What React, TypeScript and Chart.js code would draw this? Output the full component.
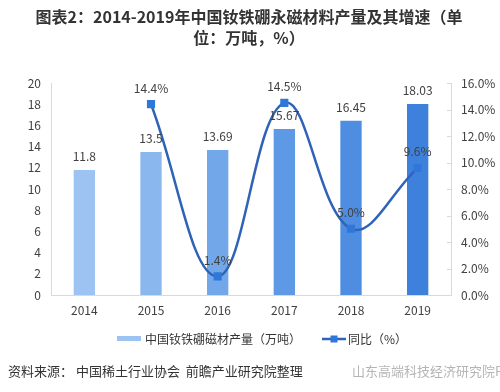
import React, { useEffect, useRef } from "react";
import { Chart, registerables } from "chart.js";

Chart.register(...registerables);

const years = ["2014", "2015", "2016", "2017", "2018", "2019"];
const output = [11.8, 13.5, 13.69, 15.67, 16.45, 18.03];
const growth = [null, 14.4, 1.4, 14.5, 5.0, 9.6];
const leftTicks = [0, 2, 4, 6, 8, 10, 12, 14, 16, 18, 20];
const rightTicks = [0, 2, 4, 6, 8, 10, 12, 14, 16];
const barColors = ["#9cc3f1", "#8ab7ee", "#72a7ea", "#5e99e6", "#4e8de2", "#3e81dd"];
const titleLines = ["图表2：2014-2019年中国钕铁硼永磁材料产量及其增速（单", "位：万吨，%）"];
const barLegend = "中国钕铁硼磁材产量（万吨）";
const lineLegend = "同比（%）";
const sourceText = "资料来源： 中国稀土行业协会  前瞻产业研究院整理";
const watermarkText = "山东高端科技经济研究院PP";

const FONT = "'Noto Sans CJK SC', 'Noto Sans', sans-serif";

const overlay = {
  id: "overlay",
  afterDatasetsDraw(chart: any) {
    const ctx = chart.ctx;
    ctx.save();
    const barMeta = chart.getDatasetMeta(0);
    ctx.font = `12px ${FONT}`;
    ctx.fillStyle = "#404040";
    ctx.textAlign = "center";
    ctx.textBaseline = "middle";
    barMeta.data.forEach((el: any, i: number) => {
      ctx.fillText(String(output[i]), el.x, el.y - 13);
    });
    const lineMeta = chart.getDatasetMeta(1);
    lineMeta.data.forEach((el: any, i: number) => {
      const v = growth[i];
      if (v == null) return;
      ctx.fillText(v.toFixed(1) + "%", el.x, el.y - 16);
    });
    ctx.restore();
  },
  afterDraw(chart: any) {
    const ctx = chart.ctx;
    ctx.save();
    const y1 = chart.scales.y1;
    const ax = chart.chartArea.right;
    ctx.strokeStyle = "#d9d9d9";
    ctx.lineWidth = 1;
    rightTicks.forEach((v) => {
      const py = Math.round(y1.getPixelForValue(v)) + 0.5;
      ctx.beginPath();
      ctx.moveTo(ax - 4, py);
      ctx.lineTo(ax, py);
      ctx.stroke();
    });
    ctx.fillStyle = "#333333";
    ctx.textAlign = "center";
    ctx.textBaseline = "middle";
    ctx.font = `bold 16px ${FONT}`;
    ctx.fillText(titleLines[0], 249, 17);
    ctx.fillText(titleLines[1], 249, 38);
    ctx.fillStyle = barColors[0];
    ctx.fillRect(117, 336, 24, 5);
    ctx.font = `12px ${FONT}`;
    ctx.fillStyle = "#333333";
    ctx.textAlign = "left";
    ctx.fillText(barLegend, 145, 339);
    ctx.strokeStyle = "#2e63b8";
    ctx.lineWidth = 2.5;
    ctx.beginPath();
    ctx.moveTo(322, 339);
    ctx.lineTo(346, 339);
    ctx.stroke();
    ctx.fillStyle = "#2f77d8";
    ctx.fillRect(330.5, 335.5, 7, 7);
    ctx.fillStyle = "#333333";
    ctx.fillText(lineLegend, 348, 339);
    ctx.font = `13px ${FONT}`;
    ctx.fillText(sourceText, 8, 371);
    ctx.fillStyle = "#b5b5b5";
    ctx.font = `13px ${FONT}`;
    ctx.fillText(watermarkText, 352, 371);
    ctx.restore();
  },
};

export default function App() {
  const ref = useRef<HTMLCanvasElement>(null);
  useEffect(() => {
    if (!ref.current) return;
    const chart = new Chart(ref.current, {
      type: "bar",
      data: {
        labels: years,
        datasets: [
          {
            type: "bar",
            label: barLegend,
            data: output,
            backgroundColor: barColors,
            yAxisID: "y",
            categoryPercentage: 1,
            barPercentage: 0.32,
            order: 2,
          },
          {
            type: "line",
            label: lineLegend,
            data: growth as any,
            borderColor: "#2e63b8",
            borderWidth: 2.5,
            tension: 0.4,
            pointStyle: "rect",
            pointRadius: 4,
            pointBackgroundColor: "#2f77d8",
            pointBorderColor: "#2f77d8",
            yAxisID: "y1",
            order: 1,
          } as any,
        ],
      },
      options: {
        animation: false,
        responsive: false,
        layout: { padding: { left: 0, right: 0, top: 83, bottom: 0 } },
        plugins: { legend: { display: false }, tooltip: { enabled: false }, title: { display: false } },
        scales: {
          x: {
            grid: { display: false, drawTicks: false },
            border: { display: true, color: "#d9d9d9" },
            ticks: { color: "#404040", font: { size: 12, family: FONT }, padding: 8 },
            afterFit: (s: any) => { s.height = 97; },
          },
          y: {
            position: "left",
            min: 0,
            max: 20,
            afterBuildTicks: (s: any) => { s.ticks = leftTicks.map((v) => ({ value: v })); },
            grid: { display: false, drawTicks: false },
            border: { display: true, color: "#d9d9d9" },
            ticks: { color: "#404040", font: { size: 12, family: FONT }, padding: 10 },
            afterFit: (s: any) => { s.width = 51; },
          },
          y1: {
            position: "right",
            min: 0,
            max: 16,
            afterBuildTicks: (s: any) => { s.ticks = rightTicks.map((v) => ({ value: v })); },
            grid: { display: false, drawOnChartArea: false, drawTicks: false },
            border: { display: true, color: "#d9d9d9" },
            ticks: { color: "#404040", font: { size: 12, family: FONT }, padding: 10, callback: (v: any) => Number(v).toFixed(1) + "%" },
            afterFit: (s: any) => { s.width = 49; },
          },
        },
      } as any,
      plugins: [overlay],
    });
    return () => chart.destroy();
  }, []);
  return (
    <div style={{ position: "absolute", left: 0, top: 0, width: 500, height: 392, background: "#fff" }}>
      <canvas ref={ref} width={500} height={392} style={{ width: 500, height: 392 }} />
    </div>
  );
}
